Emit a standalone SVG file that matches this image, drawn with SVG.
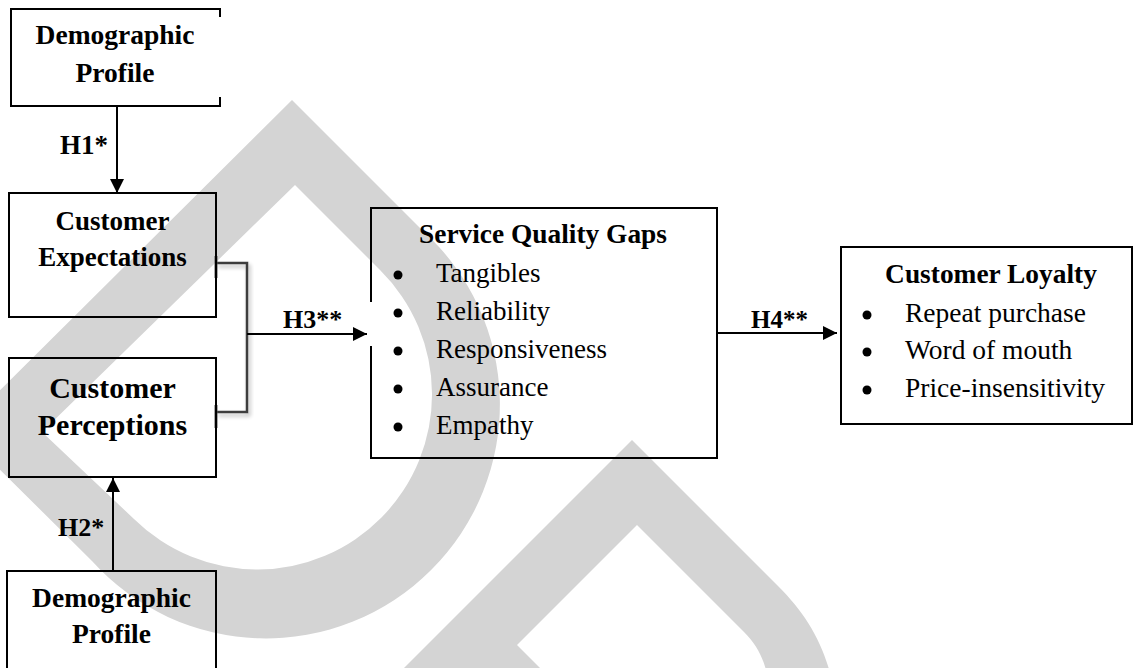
<svg xmlns="http://www.w3.org/2000/svg" width="1133" height="668" viewBox="0 0 1133 668">
<style>
.bx{fill:none;stroke:#000;stroke-width:2}
.t{font-family:"Liberation Serif","Times New Roman",serif;fill:#000}
.b{font-weight:bold}
.ln{fill:none;stroke:#000;stroke-width:2}
.br{fill:none;stroke:#3c3c3c;stroke-width:2.5}
.tick{stroke:#555;stroke-width:3}
.wm{fill:#d4d4d4;fill-rule:evenodd}
</style>
<defs>
<marker id="ah" viewBox="0 0 14 14" refX="14" refY="7" markerWidth="14" markerHeight="14" markerUnits="userSpaceOnUse" orient="auto">
<path d="M0,0 L14,7 L0,14 Z" fill="#000"/>
</marker>
<filter id="sh" x="-20%" y="-20%" width="140%" height="140%">
<feGaussianBlur in="SourceAlpha" stdDeviation="2"/>
<feOffset dx="2" dy="3" result="o"/>
<feComponentTransfer><feFuncA type="linear" slope="0.3"/></feComponentTransfer>
<feMerge><feMergeNode/><feMergeNode in="SourceGraphic"/></feMerge>
</filter>
</defs>
<rect width="1133" height="668" fill="#fff"/>
<g id="watermark">
<path class="wm" d="M292,100 L423,231 A234,234 0 1 1 92,561 L-40,430 Z M295,185 L380,270 A174,174 0 1 1 134,519 L42,432 Z"/>
<path class="wm" d="M632,440 L778,586 C805,613 822,640 832,680 L392,680 Z M637,525 L744,632 C757,645 765,660 768,680 L552,680 L517,645 Z"/>
</g>
<g id="connectors">
<line class="ln" x1="117" y1="106" x2="117" y2="193" marker-end="url(#ah)"/>
<line class="ln" x1="113" y1="571" x2="113" y2="478" marker-end="url(#ah)"/>
<path class="br" filter="url(#sh)" d="M216,263 H247 V412 H216"/>
<line class="tick" x1="216" y1="256" x2="216" y2="278"/>
<line class="tick" x1="216" y1="405" x2="216" y2="428"/>
<line class="ln" x1="247" y1="334" x2="367" y2="334" marker-end="url(#ah)"/>
<line class="ln" x1="717" y1="333" x2="837" y2="333" marker-end="url(#ah)"/>
<text class="t b" x="60" y="154" font-size="27">H1*</text>
<text class="t b" x="58" y="536" font-size="26">H2*</text>
<text class="t b" x="283" y="328" font-size="26">H3**</text>
<text class="t b" x="751" y="328" font-size="25">H4**</text>
</g>
<g id="demo-top">
<path class="bx" d="M220,17 V9 H11 V106 H220 V97"/>
<text class="t b" x="115" y="44" font-size="27.5" text-anchor="middle">Demographic</text>
<text class="t b" x="115" y="82" font-size="27.5" text-anchor="middle">Profile</text>
</g>
<g id="expectations">
<rect class="bx" x="9" y="193" width="207" height="124"/>
<text class="t b" x="112.5" y="230" font-size="27" text-anchor="middle">Customer</text>
<text class="t b" x="112.5" y="266" font-size="27" text-anchor="middle">Expectations</text>
</g>
<g id="perceptions">
<rect class="bx" x="9" y="358" width="207" height="119"/>
<text class="t b" x="112.5" y="398" font-size="30" text-anchor="middle">Customer</text>
<text class="t b" x="112.5" y="435" font-size="30" text-anchor="middle">Perceptions</text>
</g>
<g id="demo-bottom">
<rect class="bx" x="7" y="571" width="209" height="110"/>
<text class="t b" x="111.5" y="607" font-size="27.5" text-anchor="middle">Demographic</text>
<text class="t b" x="111.5" y="643" font-size="27.5" text-anchor="middle">Profile</text>
</g>
<g id="sq-gaps">
<path class="bx" d="M371,302 V208 H717 V458 H371 V346"/>
<text class="t b" x="543" y="243" font-size="27.4" text-anchor="middle">Service Quality Gaps</text>
<g fill="#000"><circle cx="398" cy="275" r="4.5"/><circle cx="398" cy="313" r="4.5"/><circle cx="398" cy="351" r="4.5"/><circle cx="398" cy="389" r="4.5"/><circle cx="398" cy="427" r="4.5"/></g>
<text class="t" x="436" y="282" font-size="27">Tangibles</text>
<text class="t" x="436" y="320" font-size="27">Reliability</text>
<text class="t" x="436" y="358" font-size="27">Responsiveness</text>
<text class="t" x="436" y="396" font-size="27">Assurance</text>
<text class="t" x="436" y="434" font-size="27">Empathy</text>
</g>
<g id="loyalty">
<rect class="bx" x="841" y="247" width="291" height="177"/>
<text class="t b" x="991" y="283" font-size="27.4" text-anchor="middle">Customer Loyalty</text>
<g fill="#000"><circle cx="867" cy="315" r="4.5"/><circle cx="867" cy="352" r="4.5"/><circle cx="867" cy="390" r="4.5"/></g>
<text class="t" x="905" y="322" font-size="27.5">Repeat purchase</text>
<text class="t" x="905" y="359" font-size="27.5">Word of mouth</text>
<text class="t" x="905" y="397" font-size="27.5">Price-insensitivity</text>
</g>
</svg>
